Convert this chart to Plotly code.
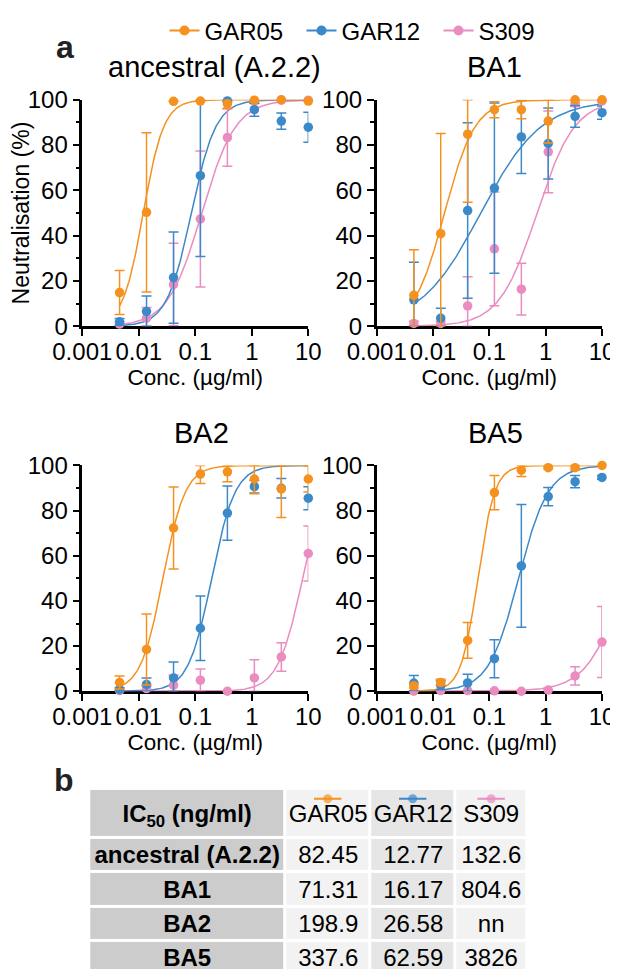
import numpy as np
import plotly.graph_objects as go

# page is 618x969; the HTML body keeps an 8 px margin, so the figure is 8 px smaller
PAGE_W, PAGE_H, OFF = 618, 969, 8
W, H = PAGE_W - OFF, PAGE_H - OFF
FONT = "Liberation Sans, Arial, Helvetica, sans-serif"

# ---------------- data ----------------
conc = [0.00457, 0.0137, 0.0412, 0.123, 0.370, 1.11, 3.33, 10.0]   # µg/ml
series = ["GAR05", "GAR12", "S309"]
colors = {"GAR05": "#F5911E", "GAR12": "#3C89C9", "S309": "#EA8CBF"}
panel_titles = ["ancestral (A.2.2)", "BA1", "BA2", "BA5"]

# ancestral (A.2.2)
anc_gar05_mean = [14.9, 50.3, 99.3, 99.4, 98.2, 99.8, 100.0, 99.4]
anc_gar05_sd   = [9.7, 35.1, 0.0, 0.0, 2.0, 0.0, 0.0, 0.0]
anc_gar12_mean = [2.0, 6.6, 21.5, 66.5, 99.5, 95.6, 90.6, 87.9]
anc_gar12_sd   = [1.5, 6.8, 20.1, 35.7, 0.5, 2.9, 3.6, 6.6]
anc_s309_mean  = [1.0, 3.6, 18.5, 47.4, 83.3, 99.3, 99.8, 99.8]
anc_s309_sd    = [1.0, 4.7, 18.2, 30.0, 12.6, 1.0, 0.5, 0.3]
# BA1
ba1_gar05_mean = [13.7, 40.9, 84.8, 95.6, 95.6, 90.6, 100.0, 100.0]
ba1_gar05_sd   = [20.1, 44.2, 30.0, 3.5, 4.0, 9.7, 0.0, 0.0]
ba1_gar12_mean = [11.7, 3.6, 51.1, 61.0, 83.6, 80.7, 92.7, 94.3]
ba1_gar12_sd   = [16.6, 4.4, 38.7, 37.6, 16.2, 15.7, 4.8, 2.9]
ba1_s309_mean  = [1.3, 1.3, 9.0, 34.2, 16.4, 77.0, 98.5, 99.5]
ba1_s309_sd    = [1.0, 1.0, 12.9, 25.1, 11.4, 18.0, 1.5, 0.5]
# BA2
ba2_gar05_mean = [3.9, 18.5, 72.3, 96.2, 97.2, 94.0, 89.6, 94.0]
ba2_gar05_sd   = [2.9, 15.7, 18.2, 4.2, 4.4, 6.5, 12.6, 5.8]
ba2_gar12_mean = [0.8, 3.0, 5.9, 27.9, 78.9, 90.6, 89.9, 85.5]
ba2_gar12_sd   = [0.8, 2.9, 7.1, 14.3, 12.0, 2.8, 4.3, 5.1]
ba2_s309_mean  = [0.3, 1.2, 2.7, 4.9, 0.0, 5.9, 15.2, 61.0]
ba2_s309_sd    = [0.3, 1.0, 4.4, 4.9, 0.0, 8.1, 6.3, 12.2]
# BA5
ba5_gar05_mean = [2.4, 3.9, 22.5, 88.0, 97.9, 99.0, 99.0, 100.0]
ba5_gar05_sd   = [1.0, 1.4, 7.9, 7.6, 2.8, 0.5, 1.0, 0.0]
ba5_gar12_mean = [3.6, 2.7, 3.7, 14.4, 55.5, 86.2, 92.8, 94.7]
ba5_gar12_sd   = [3.4, 2.0, 3.8, 8.4, 27.2, 4.0, 2.7, 0.8]
ba5_s309_mean  = [0.0, 0.3, 0.3, 0.2, 0.0, 0.5, 6.8, 21.8]
ba5_s309_sd    = [0.0, 0.0, 0.0, 0.0, 0.0, 0.0, 4.0, 15.7]

# four-parameter logistic fits (bottom 0, top 100): EC50 (µg/ml) and Hill slope,
# order GAR05, GAR12, S309
anc_ec50 = [0.012, 0.085, 0.13];  anc_hill = [2.4, 2.0, 1.45]
ba1_ec50 = [0.016, 0.070, 0.70];  ba1_hill = [1.6, 0.81, 1.3]
ba2_ec50 = [0.0267, 0.195, 7.96]; ba2_hill = [2.2, 2.1, 1.97]
ba5_ec50 = [0.0624, 0.33, 26.0];  ba5_hill = [2.9, 1.65, 1.3]

# IC50 table
ic50_header = ["IC<sub>50</sub> (ng/ml)"] + series
ic50_rows  = ["ancestral (A.2.2)", "BA1", "BA2", "BA5"]
ic50_gar05 = ["82.45", "71.31", "198.9", "337.6"]
ic50_gar12 = ["12.77", "16.17", "26.58", "62.59"]
ic50_s309  = ["132.6", "804.6", "nn", "3826"]

yticks = [0, 20, 40, 60, 80, 100]
xticks = [0.001, 0.01, 0.1, 1, 10]
xticktext = ["0.001", "0.01", "0.1", "1", "10"]

panels = [
    dict(means=[anc_gar05_mean, anc_gar12_mean, anc_s309_mean],
         sds=[anc_gar05_sd, anc_gar12_sd, anc_s309_sd], ec50=anc_ec50, hill=anc_hill),
    dict(means=[ba1_gar05_mean, ba1_gar12_mean, ba1_s309_mean],
         sds=[ba1_gar05_sd, ba1_gar12_sd, ba1_s309_sd], ec50=ba1_ec50, hill=ba1_hill),
    dict(means=[ba2_gar05_mean, ba2_gar12_mean, ba2_s309_mean],
         sds=[ba2_gar05_sd, ba2_gar12_sd, ba2_s309_sd], ec50=ba2_ec50, hill=ba2_hill),
    dict(means=[ba5_gar05_mean, ba5_gar12_mean, ba5_s309_mean],
         sds=[ba5_gar05_sd, ba5_gar12_sd, ba5_s309_sd], ec50=ba5_ec50, hill=ba5_hill),
]

# ---------------- layout helpers (page pixel -> paper) ----------------
def px(xp):
    return (xp - OFF) / W

def py(yp):
    return 1 - (yp - OFF) / H

# plot-area page-pixel boxes: (x0, x1, ytop, ybottom)
boxes = [(82.3, 308.3, 94.3, 322.3), (376.7, 602.0, 94.3, 322.3),
         (82.3, 308.3, 462.3, 689.5), (376.7, 602.0, 462.3, 689.5)]
title_pos = [(214.5, 61), (494, 61), (201, 429.5), (495, 429.5)]

fig = go.Figure()

xs_fit = np.logspace(np.log10(conc[0]), np.log10(conc[-1]), 300)
order = [2, 1, 0]  # draw S309 first, GAR05 on top

for pi, p in enumerate(panels):
    xa = "x" if pi == 0 else f"x{pi+1}"
    ya = "y" if pi == 0 else f"y{pi+1}"
    for si in order:
        name = series[si]
        yfit = 100.0 / (1.0 + (p["ec50"][si] / xs_fit) ** p["hill"][si])
        fig.add_trace(go.Scatter(x=xs_fit, y=yfit, mode="lines", xaxis=xa, yaxis=ya,
                                 line=dict(color=colors[name], width=1.5),
                                 showlegend=False, hoverinfo="skip", cliponaxis=False))
    for si in order:
        name = series[si]
        m = np.array(p["means"][si]); s = np.array(p["sds"][si])
        plus = np.minimum(m + s, 100) - m
        minus = m - np.maximum(m - s, 0)
        fig.add_trace(go.Scatter(x=conc, y=m, mode="markers", xaxis=xa, yaxis=ya,
                                 marker=dict(color=colors[name], size=9.5, line=dict(width=0)),
                                 error_y=dict(type="data", array=plus, arrayminus=minus,
                                              color=colors[name], thickness=1.5, width=5),
                                 showlegend=False, name=name, cliponaxis=False))

# legend entries
for i, name in enumerate(series):
    fig.add_trace(go.Scatter(x=[None], y=[None], mode="lines+markers", name=name,
                             marker=dict(color=colors[name], size=10),
                             line=dict(color=colors[name], width=2),
                             legendrank=i + 1, showlegend=True))

axis_common = dict(showline=True, linecolor="black", linewidth=2.5, ticks="outside",
                   ticklen=7, tickwidth=2, tickcolor="black", showgrid=False,
                   zeroline=False, layer="below traces", automargin=False,
                   tickfont=dict(family=FONT, size=24, color="black"))

for pi, (x0, x1, yt, yb) in enumerate(boxes):
    xk = "xaxis" if pi == 0 else f"xaxis{pi+1}"
    yk = "yaxis" if pi == 0 else f"yaxis{pi+1}"
    ya = "y" if pi == 0 else f"y{pi+1}"
    xa = "x" if pi == 0 else f"x{pi+1}"
    fig.layout[xk] = dict(axis_common, type="log", range=[-3, 1], domain=[px(x0), px(x1)],
                          anchor=ya, tickvals=xticks, ticktext=xticktext,
                          ticklabelstandoff=-5,
                          title=dict(text="Conc. (µg/ml)", standoff=3,
                                     font=dict(family=FONT, size=22.5, color="black")))
    yd = dict(axis_common, range=[0, 100], domain=[py(yb), py(yt)], anchor=xa,
              tickvals=yticks, ticklabelstandoff=0,
              minor=dict(dtick=10, tick0=0, ticks="outside", ticklen=4, tickwidth=2,
                         tickcolor="black"))
    if pi == 0:
        yd["title"] = dict(text="Neutralisation (%)", standoff=1,
                           font=dict(family=FONT, size=23, color="black"))
    fig.layout[yk] = yd

annotations = []
for (tx, ty), t in zip(title_pos, panel_titles):
    annotations.append(dict(text=t, x=px(tx), y=py(ty), xref="paper", yref="paper",
                            xanchor="center", yanchor="middle", showarrow=False,
                            font=dict(family=FONT, size=29, color="black")))
annotations.append(dict(text="<b>a</b>", x=px(65), y=py(41), xref="paper", yref="paper",
                        xanchor="center", yanchor="middle", showarrow=False,
                        font=dict(family=FONT, size=32, color="#222222")))
annotations.append(dict(text="<b>b</b>", x=px(64), y=py(779), xref="paper", yref="paper",
                        xanchor="center", yanchor="middle", showarrow=False,
                        font=dict(family=FONT, size=32, color="#222222")))

# ---------------- IC50 table drawn as a heatmap of cells ----------------
col_widths = [196, 85, 85, 72]            # px
row_heights = [49.5, 34.5, 34.5, 34.5, 34.5]
col_shade = [0, 1, 2, 1]                  # 0 grey label column, 1 light, 2 mid
x_edges = np.concatenate([[0], np.cumsum(col_widths)])
y_edges = np.concatenate([[0], np.cumsum(row_heights)])
tbl_top, tbl_left = 787.8, 89.2           # page px

table_cols = [["<b>%s</b>" % r for r in ic50_rows], ic50_gar05, ic50_gar12, ic50_s309]
header_txt = ["<b>%s</b>" % ic50_header[0]] + ic50_header[1:]
text = [header_txt] + [[table_cols[c][r] for c in range(4)] for r in range(len(ic50_rows))]
z = [[col_shade[c] for c in range(4)] for _ in range(len(text))]

fig.add_trace(go.Heatmap(
    x=x_edges, y=y_edges, z=z, text=text, texttemplate="%{text}",
    textfont=dict(family=FONT, size=24, color="black"),
    colorscale=[[0, "#CCCCCC"], [0.5, "#F2F2F2"], [1, "#E6E6E6"]],
    zmin=0, zmax=2, showscale=False, xgap=3, ygap=3, hoverinfo="skip",
    xaxis="x5", yaxis="y5"))

# series glyphs in the table header
col_centers = (x_edges[:-1] + x_edges[1:]) / 2
for i, name in enumerate(series):
    c = col_centers[i + 1]
    fig.add_trace(go.Scatter(x=[c - 13.7, c, c + 13.7], y=[9.9, 9.9, 9.9],
                             mode="lines+markers", xaxis="x5", yaxis="y5",
                             line=dict(color=colors[name], width=2),
                             marker=dict(color=colors[name], size=[0, 9, 0], line=dict(width=0)),
                             showlegend=False, hoverinfo="skip", cliponaxis=False))

tbl_w = float(x_edges[-1])
fig.layout["xaxis5"] = dict(domain=[px(tbl_left), px(tbl_left + tbl_w)], range=[0, tbl_w],
                            visible=False, anchor="y5", automargin=False, fixedrange=True)
fig.layout["yaxis5"] = dict(domain=[0, py(tbl_top)], range=[PAGE_H - tbl_top, 0],
                            visible=False, anchor="x5", automargin=False, fixedrange=True)

fig.update_layout(
    template="none",
    width=W, height=H, margin=dict(l=0, r=0, t=0, b=0, pad=0),
    paper_bgcolor="white", plot_bgcolor="rgba(0,0,0,0)",
    font=dict(family=FONT, color="black"),
    annotations=annotations,
    legend=dict(orientation="h", x=px(370), xanchor="center", y=py(25), yanchor="middle",
                font=dict(family=FONT, size=24, color="black"), bgcolor="rgba(0,0,0,0)",
                itemwidth=30, entrywidth=92, traceorder="normal"),
)

fig.write_html("out.html")
